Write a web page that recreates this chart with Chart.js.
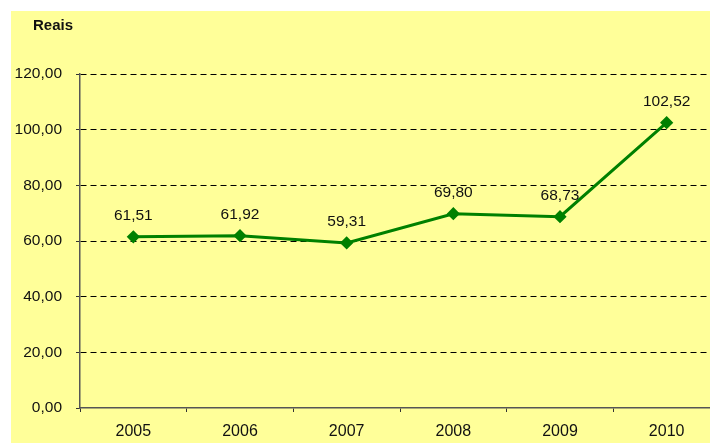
<!DOCTYPE html>
<html>
<head>
<meta charset="utf-8">
<script src="https://cdn.jsdelivr.net/npm/chart.js@4/dist/chart.umd.min.js"></script>
<style>
  html, body { margin: 0; padding: 0; background: #ffffff; overflow: hidden; width: 710px; height: 443px; }
  #panel { position: absolute; left: 11px; top: 11px; width: 720px; height: 432px; background: #FFFF99; }
  #chart { display: block; }
</style>
</head>
<body>
<div id="panel"><canvas id="chart" width="720" height="432"></canvas></div>
<script>
// Annual values in reais
const years = ['2005', '2006', '2007', '2008', '2009', '2010'];
const reais = [61.51, 61.92, 59.31, 69.80, 68.73, 102.52];
const yTicks = [0, 20, 40, 60, 80, 100, 120];

const FONT = '"Liberation Sans", Arial, sans-serif';
const fmt = v => v.toFixed(2).replace('.', ',');

// Value labels above each point, plus the unit caption in the corner
const labelsPlugin = {
  id: 'valueLabels',
  afterDatasetsDraw(chart) {
    const ctx = chart.ctx;
    const meta = chart.getDatasetMeta(0);
    ctx.save();
    ctx.fillStyle = '#111';
    ctx.font = '15.5px ' + FONT;
    ctx.textAlign = 'center';
    ctx.textBaseline = 'middle';
    meta.data.forEach((pt, i) => {
      ctx.fillText(fmt(reais[i]), pt.x, pt.y - 21);
    });
    ctx.font = 'bold 15px ' + FONT;
    ctx.textAlign = 'left';
    ctx.fillText('Reais', 22, 15);
    ctx.restore();
  }
};

new Chart(document.getElementById('chart'), {
  type: 'line',
  data: {
    labels: years,
    datasets: [{
      data: reais,
      borderColor: '#008000',
      backgroundColor: '#008000',
      borderWidth: 3,
      pointStyle: 'rectRot',
      pointRadius: 4.5,
      pointHoverRadius: 4.5,
      tension: 0
    }]
  },
  options: {
    responsive: false,
    animation: false,
    events: [],
    layout: { padding: { top: 63, right: 11, left: 0, bottom: 0 } },
    plugins: { legend: { display: false }, tooltip: { enabled: false } },
    scales: {
      x: {
        offset: true,
        grid: { offset: true, drawOnChartArea: false, color: '#333', tickLength: 4 },
        border: { color: '#555', width: 1.5 },
        ticks: { color: '#111', font: { family: FONT, size: 16 }, padding: 10, maxRotation: 0 },
        afterFit(s) { s.height = 35; }
      },
      y: {
        min: 0,
        max: 120,
        afterBuildTicks(s) { s.ticks = yTicks.map(v => ({ value: v })); },
        grid: {
          color: c => (c.tick && c.tick.value === 0 ? 'rgba(0,0,0,0)' : '#000'),
          tickColor: '#333',
          tickLength: 4,
          lineWidth: 1
        },
        border: { color: '#555', width: 1.5, dash: [6, 4] },
        ticks: { color: '#111', font: { family: FONT, size: 15.5 }, padding: 14, callback: v => fmt(v) },
        afterFit(s) { s.width = 69; }
      }
    }
  },
  plugins: [labelsPlugin]
});
</script>
</body>
</html>
